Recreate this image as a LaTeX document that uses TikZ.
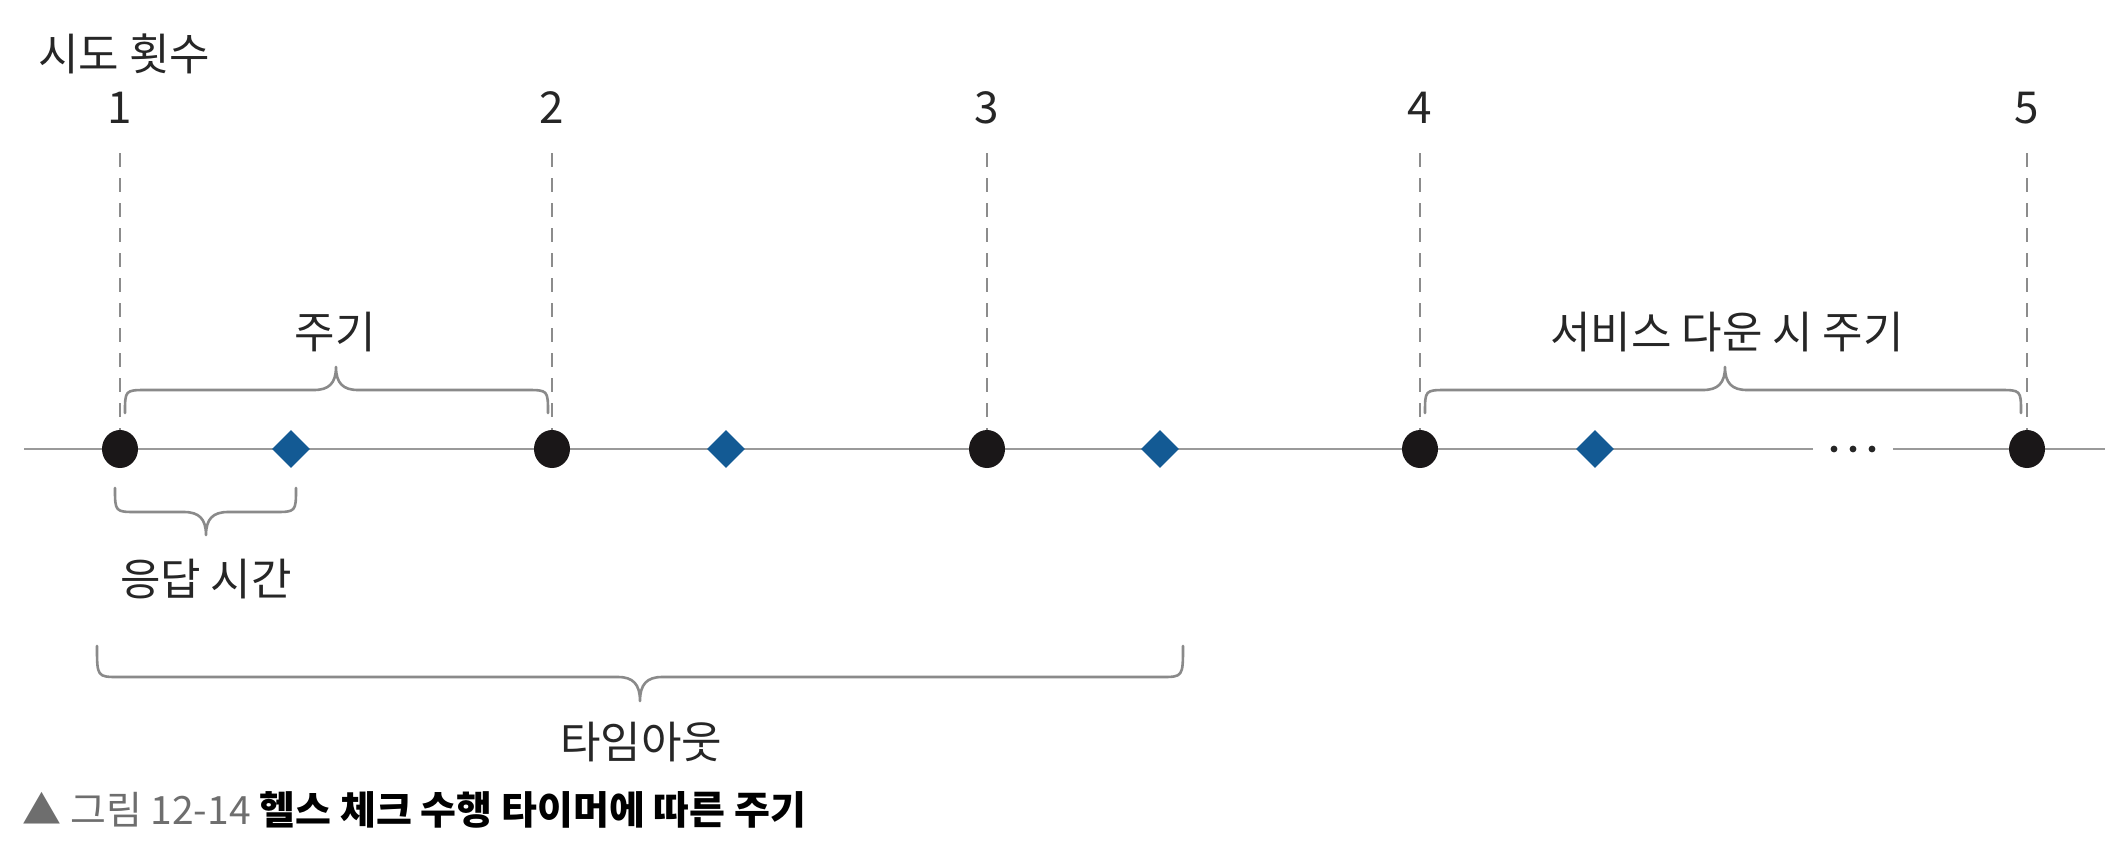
\documentclass[tikz,border=0pt]{standalone}
\usepackage{fontspec}
\setmainfont{Noto Sans CJK KR}
\usetikzlibrary{shapes.geometric}
\definecolor{dotc}{HTML}{1A1718}
\definecolor{diac}{HTML}{135A94}
\definecolor{axisc}{HTML}{9A9A9A}
\definecolor{dashc}{HTML}{8C8C8C}
\definecolor{bracec}{HTML}{8A8A8A}
\definecolor{txtc}{HTML}{262626}
\definecolor{capg}{HTML}{6E6E6E}
\newcommand{\mybrace}[6]{%
 \pgfmathsetmacro{\bxa}{#1+22}\pgfmathsetmacro{\bxb}{#2-22}%
 \pgfmathsetmacro{\bxc}{#3-22}\pgfmathsetmacro{\bxd}{#3+22}%
 \pgfmathsetmacro{\bxe}{#3-7}\pgfmathsetmacro{\bxf}{#3+7}%
 \pgfmathsetmacro{\byg}{#5+(#6-#5)*0.3}%
 \draw[bracestyle] (#1,#4) .. controls (#1,#5) .. (\bxa,#5) -- (\bxc,#5)
   .. controls (\bxe,#5) and (#3,\byg) .. (#3,#6)
   .. controls (#3,\byg) and (\bxf,#5) .. (\bxd,#5) -- (\bxb,#5)
   .. controls (#2,#5) .. (#2,#4);}
\begin{document}
\begin{tikzpicture}[x=0.5pt,y=-0.5pt,
  lbl/.style={font=\fontsize{22pt}{26pt}\selectfont, text=txtc, inner sep=0pt},
  num/.style={font=\fontsize{22pt}{26pt}\selectfont, text=txtc, inner sep=0pt},
  dotnode/.style={ellipse, fill=dotc, minimum width=18pt, minimum height=19pt, inner sep=0pt},
  dianode/.style={diamond, fill=diac, minimum size=19pt, inner sep=0pt},
  dashline/.style={draw=dashc, line width=0.9pt, dash pattern=on 7pt off 5.5pt},
  axisline/.style={draw=axisc, line width=1.2pt},
  bracestyle/.style={draw=bracec, line width=1.3pt, line cap=round, line join=round},
  ell/.style={circle, fill=txtc, minimum size=3.4pt, inner sep=0pt}]
\useasboundingbox (0,0) rectangle (2120,852);
\fill[white] (0,0) rectangle (2120,852);

% axis
\coordinate (ax0) at (24,449);
\coordinate (gapL) at (1813,449);
\coordinate (gapR) at (1893,449);
\coordinate (ax1) at (2105,449);
\draw[axisline] (ax0) -- (gapL);
\draw[axisline] (gapR) -- (ax1);
\node[ell] (e1) at (1834,449) {};
\node[ell] (e2) at (1853,449) {};
\node[ell] (e3) at (1872,449) {};

% title
\node[lbl, anchor=west] (title) at (38,54) {시도 횟수};

% attempt numbers
\node[num] (n1) at (120,108) {1};
\node[num] (n2) at (552,108) {2};
\node[num] (n3) at (987,108) {3};
\node[num] (n4) at (1420,108) {4};
\node[num] (n5) at (2027,108) {5};

% dashed guides
\foreach \i/\x in {1/120,2/552,3/987,4/1420,5/2027}{
  \coordinate (t\i) at (\x,153);
}

% dots and diamonds
\node[dotnode] (d1) at (120,449) {};
\node[dotnode] (d2) at (552,449) {};
\node[dotnode] (d3) at (987,449) {};
\node[dotnode] (d4) at (1420,449) {};
\node[dotnode] (d5) at (2027,449) {};
\node[dianode] (m1) at (291,449) {};
\node[dianode] (m2) at (726,449) {};
\node[dianode] (m3) at (1160,449) {};
\node[dianode] (m4) at (1595,449) {};

\foreach \i in {1,...,5}{
  \draw[dashline] (t\i) -- (d\i.north);
}

% braces
\mybrace{125}{548}{336}{413}{390}{367}
\mybrace{1425}{2021}{1725}{413}{390}{367}
\mybrace{115}{296}{206}{488}{512}{535}
\mybrace{97}{1183}{640}{646}{677}{701}

% labels
\node[lbl] (l1) at (335,332) {주기};
\node[lbl] (l2) at (1727,332) {서비스 다운 시 주기};
\node[lbl] (l3) at (206,579) {응답 시간};
\node[lbl] (l4) at (641,742) {타임아웃};

% caption
\node[anchor=west, inner sep=0pt, font=\fontsize{19.5pt}{23pt}\selectfont] (cap) at (22,810)
  {\textcolor{capg}{▲ 그림 12-14} \textcolor{black}{\bfseries 헬스 체크 수행 타이머에 따른 주기}};
\end{tikzpicture}
\end{document}
